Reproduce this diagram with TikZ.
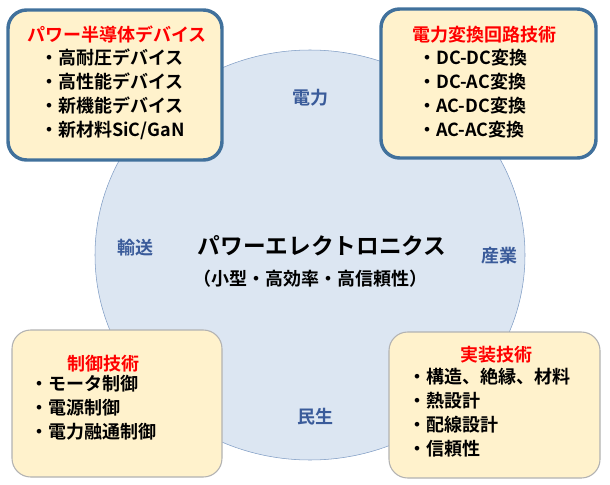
\documentclass[tikz,border=0pt]{standalone}
\usepackage{fontspec}
\setmainfont{Noto Sans CJK JP}[BoldFont={Noto Sans CJK JP Bold}]
\definecolor{bord}{HTML}{41719C}
\definecolor{cfill}{HTML}{DCE6F2}
\definecolor{cline}{HTML}{7F9CC4}
\definecolor{bfill}{HTML}{FFF2CC}
\definecolor{labc}{HTML}{3A5B9A}
\begin{document}
\begin{tikzpicture}[x=0.75pt,y=-0.75pt,
  box/.style={rounded corners=14pt,fill=bfill},
  thickbox/.style={box,draw=bord,line width=2.6pt},
  thinbox/.style={box,draw=gray!60,line width=0.8pt},
  ttl/.style={font=\bfseries\fontsize{13.5}{15}\selectfont,text=red},
  itm/.style={font=\bfseries\fontsize{13.5}{18}\selectfont,align=left,anchor=north west,inner sep=0pt},
  lab/.style={font=\bfseries\fontsize{13.5}{15}\selectfont,text=labc}]
\useasboundingbox (0,0) rectangle (610,485);
\fill[fill=cfill,draw=cline] (310,255) ellipse (215 and 205);
\node[name=circ] at (310,255) {};
\draw[thickbox] (8,10) rectangle (222,160);
\draw[thickbox] (381,9) rectangle (596,158);
\draw[thinbox] (12,330) rectangle (222,477);
\draw[thinbox] (389,332) rectangle (600,478);
\node[ttl] (t1) at (117,34) {パワー半導体デバイス};
\node[itm] (i1) at (40,49) {・高耐圧デバイス\\・高性能デバイス\\・新機能デバイス\\・新材料SiC/GaN};
\node[ttl] (t2) at (484,35) {電力変換回路技術};
\node[itm] (i2) at (418,49) {・DC-DC変換\\・DC-AC変換\\・AC-DC変換\\・AC-AC変換};
\node[ttl] (t3) at (103,364) {制御技術};
\node[itm] (i3) at (30,375) {・モータ制御\\・電源制御\\・電力融通制御};
\node[ttl] (t4) at (496,355) {実装技術};
\node[itm] (i4) at (408,368) {・構造、絶縁、材料\\・熱設計\\・配線設計\\・信頼性};
\node[lab] (l1) at (310,98) {電力};
\node[lab] (l2) at (135,248) {輸送};
\node[lab] (l3) at (499,256) {産業};
\node[lab] (l4) at (315,417) {民生};
\node[font=\bfseries\fontsize{17}{19}\selectfont] (m1) at (322,246) {パワーエレクトロニクス};
\node[font=\bfseries\fontsize{13.5}{15}\selectfont] (m2) at (310,279) {（小型・高効率・高信頼性）};
\end{tikzpicture}
\end{document}
